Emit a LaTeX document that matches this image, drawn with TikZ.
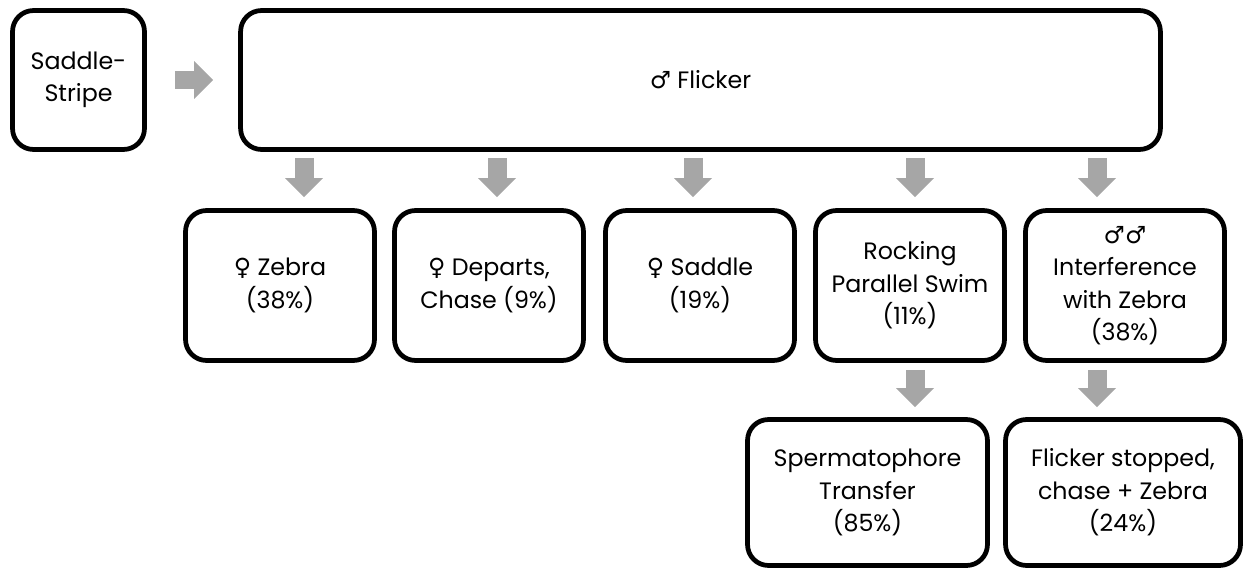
\documentclass[tikz,border=0pt]{standalone}
\usepackage{fontspec}
\setmainfont{Poppins}
\newfontfamily\symfont{DejaVu Sans}
\usetikzlibrary{calc,arrows.meta}
\definecolor{arrowgray}{rgb}{0.65, 0.65, 0.65}
\newcommand{\male}{{\symfont\char"2642}}
\newcommand{\female}{{\symfont\char"2640}}

\begin{document}
\begin{tikzpicture}[x=0.02cm,y=-0.02cm,
	card/.style={draw,line width=0.095cm,rounded corners=0.42cm,align=center,inner sep=2pt,
		font=\fontsize{13.5}{18.5}\selectfont},
	bigarrow/.style={draw=arrowgray,line width=0.38cm,
		-{Triangle[length=0.38cm,width=0.76cm,line width=0pt,fill=arrowgray]}}]

	\useasboundingbox (0,0) rectangle (1244,571);

	\node[card, minimum width=2.64cm, minimum height=2.78cm] (stripe) at (78.5,80) {Saddle-\\Stripe};
	\node[card, minimum width=18.4cm, minimum height=2.78cm] (flicker) at (700.5,80) {\male\ Flicker};

	\node[card, minimum width=3.78cm, minimum height=3.0cm] (zebra) at (280,285.5) {\female\ Zebra\\(38\%)};
	\node[card, minimum width=3.78cm, minimum height=3.0cm] (departs) at (489,285.5) {\female\ Departs,\\Chase (9\%)};
	\node[card, minimum width=3.78cm, minimum height=3.0cm] (saddle) at (700,285.5) {\female\ Saddle\\(19\%)};
	\node[card, minimum width=3.78cm, minimum height=3.0cm] (rocking) at (910,285.5) {Rocking\\Parallel Swim\\(11\%)};
	\node[card, minimum width=3.98cm, minimum height=3.0cm] (interf) at (1125,285.5) {\male\male\\Interference\\with Zebra\\(38\%)};

	\node[card, minimum width=4.8cm, minimum height=2.92cm] (transfer) at (867.5,492.5) {Spermatophore\\Transfer\\(85\%)};
	\node[card, minimum width=4.7cm, minimum height=2.92cm] (stopped) at (1123,492.5) {Flicker stopped,\\chase + Zebra\\(24\%)};

	%block arrows
	\draw[bigarrow] ($(stripe.east)+(28,0)$) -- ($(flicker.west)+(-25,0)$);
	\foreach \n/\dx in {zebra/24,departs/8,saddle/-7,rocking/5,interf/-28}
		\draw[bigarrow] ($(\n.north |- flicker.south)+(\dx,6)$) -- ($(\n.north)+(\dx,-11)$);
	\draw[bigarrow] ($(rocking.south)+(5,7)$) -- ($(rocking.south |- transfer.north)+(5,-10)$);
	\draw[bigarrow] ($(interf.south)+(-28,7)$) -- ($(interf.south |- stopped.north)+(-28,-10)$);
\end{tikzpicture}
\end{document}
